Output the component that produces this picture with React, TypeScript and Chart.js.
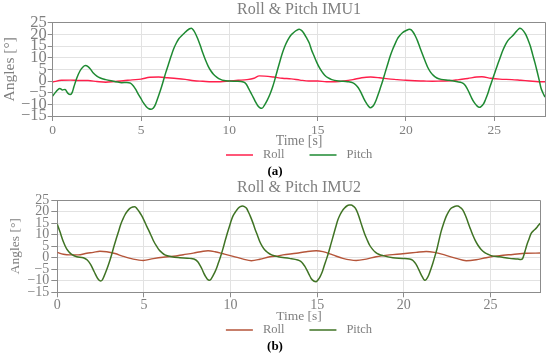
import React, { useEffect, useRef } from 'react';
import { Chart, registerables } from 'chart.js';

Chart.register(...registerables);

// ---------- data ----------
const xTicks = [0, 5, 10, 15, 20, 25];
const yTicks = [-15, -10, -5, 0, 5, 10, 15, 20, 25];
const seriesNames = ['Roll', 'Pitch'];
const chartTitles = ['Roll & Pitch IMU1', 'Roll & Pitch IMU2'];
const captions = ['(a)', '(b)'];
const xAxisTitle = 'Time [s]';
const yAxisTitle = 'Angles [°]';

// [time s, angle °]
const imu1Roll: [number, number][] = [
  [0, -0.4], [0.5, 0.3], [1.0, 0.4], [1.5, 0.2], [2.0, 0.2], [2.5, -0.2], [3.0, -0.5], [3.5, -0.2],
  [4.0, 0.1], [4.5, 0.5], [5.0, 0.8], [5.5, 1.6], [6.0, 1.7], [6.5, 1.4], [7.0, 1.1], [7.5, 0.7],
  [8.0, 0.1], [8.5, -0.1], [9.0, -0.3], [9.5, -0.3], [10.0, 0], [10.5, 0.3], [11.0, 0.6], [11.4, 1.2],
  [11.7, 2.2], [12.0, 2.1], [12.5, 1.7], [13.0, 1.2], [13.5, 0.9], [14.0, 0.4], [14.5, 0], [15.0, 0],
  [15.5, -0.3], [16.0, -0.3], [16.5, 0], [17.0, 0.6], [17.5, 1.4], [18.0, 1.7], [18.5, 1.4], [19.0, 0.9],
  [19.5, 0.6], [20.0, 0.3], [20.5, 0.1], [21.0, 0], [21.5, -0.1], [22.0, 0], [22.5, 0.1], [23.0, 0.6],
  [23.5, 1.1], [24.0, 1.7], [24.3, 1.8], [24.8, 1.2], [25.3, 0.8], [26.0, 0.6], [26.5, 0.3], [27.0, 0],
  [27.5, -0.3], [27.9, -0.3],
];

const imu1Pitch: [number, number][] = [
  [0, -6.4], [0.2, -4.5], [0.4, -3.2], [0.55, -3.8], [0.7, -3.6], [0.85, -5.2], [1.0, -5.8], [1.1, -5.0],
  [1.2, -2.5], [1.36, 1.2], [1.55, 4.4], [1.7, 5.9], [1.85, 6.6], [2.0, 6.2], [2.15, 5.0], [2.3, 3.4],
  [2.5, 2.1], [2.7, 1.3], [3.0, 0.6], [3.3, 0.1], [3.6, -0.3], [3.9, -0.7], [4.2, -0.6], [4.4, -0.9],
  [4.57, -2.1], [4.7, -3.6], [4.85, -5.7], [5.0, -7.6], [5.13, -9.3], [5.3, -11.0], [5.45, -11.9], [5.57, -12.1],
  [5.7, -11.6], [5.82, -10.0], [5.95, -7.3], [6.1, -4.0], [6.26, 0], [6.4, 3.6], [6.55, 7.1], [6.7, 10.6],
  [6.85, 13.8], [7.0, 16.3], [7.15, 18.2], [7.3, 19.4], [7.45, 20.5], [7.6, 21.6], [7.75, 22.4], [7.85, 22.6],
  [7.95, 22.0], [8.05, 20.8], [8.2, 18.3], [8.35, 15.3], [8.5, 12.0], [8.65, 9.0], [8.8, 6.4], [8.95, 4.4],
  [9.1, 2.9], [9.3, 1.6], [9.5, 0.7], [9.7, 0.2], [10.0, 0], [10.4, -0.1], [10.8, -0.4], [10.95, -1.3],
  [11.07, -2.9], [11.2, -4.8], [11.36, -7.1], [11.5, -9.2], [11.6, -10.5], [11.75, -11.6], [11.85, -11.7], [12.0, -10.2],
  [12.15, -8.2], [12.3, -5.7], [12.45, -2.6], [12.58, 0.7], [12.72, 4.6], [12.87, 8.6], [13.0, 11.9], [13.15, 15.0],
  [13.3, 17.4], [13.45, 19.3], [13.6, 20.5], [13.8, 21.7], [13.96, 22.2], [14.1, 21.6], [14.2, 20.7], [14.35, 18.8],
  [14.53, 16.2], [14.65, 13.4], [14.8, 10.7], [14.95, 8.0], [15.1, 5.7], [15.25, 3.9], [15.4, 2.5], [15.6, 1.3],
  [15.8, 0.6], [16.2, 0], [16.7, -0.3], [17.0, -0.8], [17.15, -1.6], [17.3, -2.9], [17.45, -4.9], [17.6, -7.3],
  [17.75, -9.4], [17.87, -10.7], [17.98, -11.5], [18.1, -11.0], [18.2, -10.0], [18.32, -8.0], [18.43, -5.7], [18.55, -3.0],
  [18.68, 0], [18.82, 3.6], [18.96, 7.1], [19.1, 10.5], [19.25, 13.6], [19.4, 16.2], [19.53, 18.3], [19.65, 19.5],
  [19.8, 20.7], [20.0, 21.6], [20.2, 22.2], [20.3, 21.9], [20.4, 21.0], [20.53, 19.3], [20.66, 17.1], [20.8, 14.2],
  [20.94, 11.4], [21.1, 8.3], [21.23, 5.9], [21.4, 3.7], [21.55, 2.4], [21.75, 1.3], [22.0, 0.7], [22.45, 0.3],
  [22.92, -0.3], [23.15, -0.7], [23.3, -1.4], [23.45, -3.0], [23.58, -5.0], [23.72, -7.3], [23.87, -9.3], [24.0, -10.5],
  [24.15, -11.3], [24.25, -11.0], [24.4, -9.7], [24.5, -8.0], [24.62, -5.7], [24.75, -2.6], [24.9, 0.7], [25.05, 4.0],
  [25.19, 7.1], [25.33, 10.0], [25.47, 12.9], [25.6, 15.1], [25.75, 17.1], [25.9, 18.4], [26.04, 19.4], [26.23, 21.1],
  [26.35, 22.1], [26.45, 22.6], [26.55, 22.3], [26.66, 21.4], [26.78, 20.0], [26.9, 17.9], [27.05, 14.8], [27.17, 11.4],
  [27.3, 7.9], [27.42, 4.3], [27.53, 0.8], [27.64, -2.9], [27.75, -5.0], [27.87, -6.9],
];

const imu2Roll: [number, number][] = [
  [0, 2.3], [0.35, 1.5], [0.73, 1.2], [1.2, 1.2], [1.7, 1.9], [2.08, 2.3], [2.46, 2.8], [2.85, 2.6],
  [3.33, 1.8], [3.8, 0.6], [4.38, -0.6], [4.96, -1.2], [5.54, -0.4], [6.1, 0.2], [6.7, 0.6], [7.27, 1.3],
  [7.85, 2.0], [8.42, 2.8], [8.7, 3.0], [9.1, 2.6], [9.58, 1.7], [10.15, 0.6], [10.73, -0.6], [11.2, -1.3],
  [11.69, -0.7], [12.27, 0.4], [12.75, 0.8], [13.02, 1.2], [13.8, 1.9], [14.37, 2.6], [14.94, 3.0], [15.33, 2.6],
  [15.9, 1.2], [16.48, -0.3], [17.25, -1.2], [17.83, -0.6], [18.4, 0.4], [19.17, 1.2], [19.94, 1.7], [20.71, 2.3],
  [21.29, 2.7], [21.77, 2.3], [22.35, 1.2], [23.02, -0.3], [23.6, -1.3], [24.17, -0.9], [24.75, 0], [25.52, 0.9],
  [26.29, 1.4], [27.06, 1.9], [27.87, 2.0],
];

const imu2Pitch: [number, number][] = [
  [0, 14.5], [0.15, 11.3], [0.35, 6.9], [0.54, 3.8], [0.7, 2.3], [0.83, 1.4], [1.12, 0.4], [1.5, 0],
  [1.73, -1.0], [1.92, -2.9], [2.13, -6.1], [2.33, -9.0], [2.5, -10.1], [2.6, -9.6], [2.69, -8.2], [2.88, -4.6],
  [3.0, -2.0], [3.13, 1.2], [3.25, 4.4], [3.38, 7.7], [3.52, 11.0], [3.65, 14.2], [3.78, 16.6], [3.9, 18.5],
  [4.05, 20.2], [4.19, 21.4], [4.35, 22.0], [4.48, 22.1], [4.6, 21.2], [4.73, 19.9], [4.87, 18.2], [5.0, 16.3],
  [5.15, 13.8], [5.31, 11.3], [5.45, 9.0], [5.58, 6.9], [5.73, 5.0], [5.88, 3.3], [6.05, 2.1], [6.21, 1.2],
  [6.6, 0.4], [7.08, 0], [7.65, -0.3], [8.0, -1.0], [8.12, -1.9], [8.23, -3.2], [8.35, -4.9], [8.46, -6.8],
  [8.56, -8.2], [8.65, -9.2], [8.77, -9.8], [8.87, -9.3], [8.96, -8.2], [9.08, -6.5], [9.19, -4.6], [9.3, -2.2],
  [9.42, 0.4], [9.55, 3.6], [9.67, 6.9], [9.82, 10.8], [9.96, 14.2], [10.05, 16.3], [10.15, 18.2], [10.3, 20.0],
  [10.44, 21.4], [10.56, 22.1], [10.69, 22.4], [10.8, 22.1], [10.92, 21.4], [11.03, 19.8], [11.15, 17.8], [11.28, 15.3],
  [11.4, 12.7], [11.55, 9.7], [11.69, 6.9], [11.83, 4.9], [11.98, 3.3], [12.15, 2.2], [12.37, 1.2], [12.75, 0.4],
  [13.4, -0.3], [13.88, -1.0], [14.05, -1.6], [14.17, -2.5], [14.28, -3.7], [14.4, -5.3], [14.52, -7.1], [14.65, -9.0],
  [14.8, -10.1], [14.94, -10.4], [15.05, -9.6], [15.17, -8.2], [15.3, -6.0], [15.42, -3.2], [15.55, -0.3], [15.67, 2.6],
  [15.8, 6.1], [15.94, 9.8], [16.07, 13.3], [16.19, 16.3], [16.32, 18.6], [16.44, 20.2], [16.58, 21.5], [16.71, 22.4],
  [16.85, 22.8], [16.96, 22.8], [17.1, 22.2], [17.21, 21.4], [17.33, 19.5], [17.44, 17.1], [17.58, 13.8], [17.73, 10.5],
  [17.88, 7.8], [18.02, 5.5], [18.2, 3.6], [18.37, 2.3], [18.55, 1.5], [18.79, 0.9], [19.37, 0], [19.94, -0.3],
  [20.33, -0.6], [20.5, -1.1], [20.62, -2.0], [20.75, -3.4], [20.87, -5.3], [20.97, -6.9], [21.06, -8.2], [21.15, -9.4],
  [21.21, -9.8], [21.3, -9.4], [21.44, -7.5], [21.55, -5.2], [21.67, -2.5], [21.8, 0.8], [21.92, 4.0], [22.03, 7.6],
  [22.15, 11.3], [22.3, 14.9], [22.44, 17.8], [22.58, 19.9], [22.73, 21.4], [22.9, 22.1], [23.02, 22.4], [23.12, 22.4],
  [23.25, 21.8], [23.4, 20.7], [23.55, 18.4], [23.69, 15.6], [23.83, 12.7], [23.98, 9.8], [24.12, 7.5], [24.27, 5.5],
  [24.45, 3.7], [24.65, 2.3], [24.85, 1.5], [25.04, 0.9], [25.52, 0.4], [26.1, -0.3], [26.58, -0.6], [26.75, -0.8],
  [26.85, -0.5], [26.96, 1.9], [27.03, 3.7], [27.1, 5.5], [27.2, 7.6], [27.35, 10.5], [27.5, 11.8], [27.63, 12.7],
  [27.75, 13.8], [27.87, 14.9],
];

// ---------- styling / layout ----------
const FONT = "'Liberation Serif', 'Times New Roman', serif";
const TEXT_GRAY = '#7f7f7f';
const AXIS_GRAY = '#8c8c8c';
const GRID_GRAY = '#e2e2e2';

type Cfg = {
  top: number;
  xMax: number;
  yAxisWidth: number;
  padRight: number;
  titlePadTop: number;
  titlePadBottom: number;
  xAxisHeight: number;
  padBottom: number;
  yTickFont: number;
  yTickPad: number;
  yTickLen: number;
  yTitleFont: number;
  yTitlePadTop: number;
  xTickFont: number;
  xTickPad: number;
  xTitleFont: number;
  legendFont: number;
  legendY: number;
  captionY: number;
  colors: [string, string];
};

const cfgs: Cfg[] = [
  {
    top: 0, xMax: 27.9, yAxisWidth: 52.7, padRight: 4.5, titlePadTop: 0.4, titlePadBottom: 3.1,
    xAxisHeight: 33.3, padBottom: 28.7, yTickFont: 16.5, yTickPad: 1, yTickLen: 5,
    yTitleFont: 15.5, yTitlePadTop: 0.7, xTickFont: 13.5, xTickPad: 1, xTitleFont: 13.8,
    legendFont: 12.5, legendY: 155, captionY: 171.5, colors: ['#ff1f4b', '#1e8a32'],
  },
  {
    top: 178, xMax: 27.9, yAxisWidth: 57.3, padRight: 9.3, titlePadTop: 0, titlePadBottom: 2.8,
    xAxisHeight: 31.8, padBottom: 31.9, yTickFont: 14, yTickPad: 2, yTickLen: 6,
    yTitleFont: 13.5, yTitlePadTop: 7.7, xTickFont: 14, xTickPad: 0, xTitleFont: 13.5,
    legendFont: 12.5, legendY: 152, captionY: 169, colors: ['#b5553a', '#3f7324'],
  },
];

const align = (v: number) => Math.round(v - 0.5) + 0.5;

const decorPlugin = {
  id: 'decor',
  afterDraw(chart: any, _args: any, opts: any) {
    const { ctx, chartArea: a } = chart;
    ctx.save();
    // frame top & right
    ctx.strokeStyle = AXIS_GRAY;
    ctx.lineWidth = 1;
    ctx.beginPath();
    ctx.moveTo(align(a.left), align(a.top));
    ctx.lineTo(align(a.right), align(a.top));
    ctx.lineTo(align(a.right), align(a.bottom));
    ctx.stroke();

    // legend
    const cfg: Cfg = opts.cfg;
    ctx.font = `${cfg.legendFont}px ${FONT}`;
    ctx.textBaseline = 'middle';
    ctx.textAlign = 'left';
    const lineLen = 27;
    const textGap = 10;
    const itemGap = 25;
    const sets = chart.data.datasets;
    const widths = sets.map((d: any) => ctx.measureText(d.label).width);
    let total = 0;
    widths.forEach((w: number, i: number) => {
      total += lineLen + textGap + w + (i < widths.length - 1 ? itemGap : 0);
    });
    let x = (a.left + a.right) / 2 - total / 2;
    const y = cfg.legendY;
    sets.forEach((d: any, i: number) => {
      ctx.strokeStyle = d.borderColor;
      ctx.lineWidth = 1.5;
      ctx.beginPath();
      ctx.moveTo(x, y);
      ctx.lineTo(x + lineLen, y);
      ctx.stroke();
      x += lineLen + textGap;
      ctx.fillStyle = TEXT_GRAY;
      ctx.fillText(d.label, x, y);
      x += widths[i] + itemGap;
    });

    // caption
    ctx.font = `bold 13px ${FONT}`;
    ctx.fillStyle = '#000';
    ctx.textAlign = 'center';
    ctx.fillText(opts.caption, chart.width / 2, cfg.captionY);
    ctx.restore();
  },
};

function ImuChart({ cfg, roll, pitch, title, caption }: {
  cfg: Cfg; roll: [number, number][]; pitch: [number, number][]; title: string; caption: string;
}) {
  const ref = useRef<HTMLCanvasElement>(null);
  useEffect(() => {
    const chart = new Chart(ref.current as HTMLCanvasElement, {
      type: 'line',
      data: {
        datasets: [
          {
            label: seriesNames[0],
            data: roll.map(([x, y]) => ({ x, y })),
            borderColor: cfg.colors[0],
            backgroundColor: cfg.colors[0],
            borderWidth: 1.4,
            pointRadius: 0,
            cubicInterpolationMode: 'monotone',
            order: 2,
          },
          {
            label: seriesNames[1],
            data: pitch.map(([x, y]) => ({ x, y })),
            borderColor: cfg.colors[1],
            backgroundColor: cfg.colors[1],
            borderWidth: 1.5,
            pointRadius: 0,
            cubicInterpolationMode: 'monotone',
            order: 1,
          },
        ],
      },
      options: {
        responsive: false,
        animation: false,
        events: [],
        layout: { padding: { left: 0, right: cfg.padRight, top: 0, bottom: cfg.padBottom } },
        scales: {
          x: {
            type: 'linear',
            min: 0,
            max: cfg.xMax,
            afterBuildTicks: (s: any) => { s.ticks = xTicks.map((v) => ({ value: v })); },
            afterFit: (s: any) => { s.height = cfg.xAxisHeight; },
            ticks: {
              autoSkip: false,
              maxRotation: 0,
              padding: cfg.xTickPad,
              color: TEXT_GRAY,
              font: { family: FONT, size: cfg.xTickFont },
              callback: (v: any) => String(v),
            },
            grid: { color: GRID_GRAY, lineWidth: 1, drawTicks: true, tickLength: 5, tickColor: AXIS_GRAY },
            border: { color: AXIS_GRAY, width: 1 },
            title: {
              display: true,
              text: xAxisTitle,
              color: TEXT_GRAY,
              font: { family: FONT, size: cfg.xTitleFont },
              padding: { top: 0, bottom: 0 },
            },
          },
          y: {
            type: 'linear',
            min: -15,
            max: 25,
            afterBuildTicks: (s: any) => { s.ticks = yTicks.map((v) => ({ value: v })); },
            afterFit: (s: any) => { s.width = cfg.yAxisWidth; },
            ticks: {
              autoSkip: false,
              padding: cfg.yTickPad,
              color: TEXT_GRAY,
              font: { family: FONT, size: cfg.yTickFont, lineHeight: 1 },
              callback: (v: any) => String(v).replace('-', '\u2212'),
            },
            grid: { color: GRID_GRAY, lineWidth: 1, drawTicks: true, tickLength: cfg.yTickLen, tickColor: AXIS_GRAY },
            border: { color: AXIS_GRAY, width: 1 },
            title: {
              display: true,
              text: yAxisTitle,
              color: TEXT_GRAY,
              font: { family: FONT, size: cfg.yTitleFont },
              padding: { top: cfg.yTitlePadTop, bottom: 0 },
            },
          },
        },
        plugins: {
          legend: { display: false },
          tooltip: { enabled: false },
          title: {
            display: true,
            text: title,
            color: TEXT_GRAY,
            fullSize: false,
            font: { family: FONT, size: 16, weight: 'normal' },
            padding: { top: cfg.titlePadTop, bottom: cfg.titlePadBottom },
          },
          decor: { cfg, caption },
        } as any,
      },
      plugins: [decorPlugin],
    } as any);
    return () => chart.destroy();
  }, []);
  return (
    <canvas
      ref={ref}
      width={550}
      height={178}
      style={{ position: 'absolute', left: 0, top: cfg.top, width: 550, height: 178, display: 'block' }}
    />
  );
}

export default function App() {
  return (
    <div style={{ position: 'absolute', left: 0, top: 0, width: 550, height: 356, background: '#fff' }}>
      <ImuChart cfg={cfgs[0]} roll={imu1Roll} pitch={imu1Pitch} title={chartTitles[0]} caption={captions[0]} />
      <ImuChart cfg={cfgs[1]} roll={imu2Roll} pitch={imu2Pitch} title={chartTitles[1]} caption={captions[1]} />
    </div>
  );
}
